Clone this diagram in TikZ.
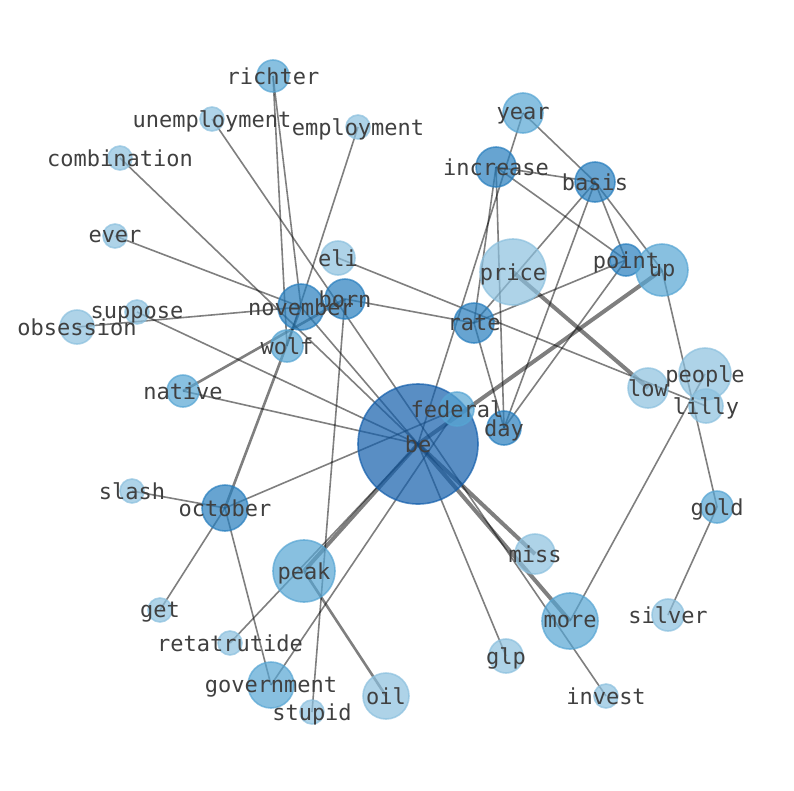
\documentclass[tikz,border=0pt]{standalone}
\usepackage{fontspec}
\setmonofont{DejaVu Sans Mono}
\usetikzlibrary{backgrounds}
\definecolor{lowdeg}{RGB}{139,192,222}
\definecolor{middeg}{RGB}{86,165,211}
\definecolor{highdeg}{RGB}{38,125,189}
\definecolor{hubdeg}{RGB}{19,94,171}
\pgfdeclarelayer{foreground}
\pgfsetlayers{background,main,foreground}

\begin{document}
\begin{tikzpicture}[x=1pt, y=-1pt,
    word/.style={circle, inner sep=0pt, fill opacity=0.7, draw opacity=0.7, line width=1.6pt},
    low/.style={word, fill=lowdeg, draw=lowdeg},
    mid/.style={word, fill=middeg, draw=middeg},
    high/.style={word, fill=highdeg, draw=highdeg},
    hub/.style={word, fill=hubdeg, draw=hubdeg},
    tag/.style={font=\ttfamily\fontsize{22}{22}\selectfont, text=black!75, inner sep=0pt,
        text depth=0pt},
    link/.style={draw=black, opacity=0.5, line width=1.6pt},
    strong/.style={link, line width=2.6pt},
    heavy/.style={link, line width=4pt}
]
\useasboundingbox (0,0) rectangle (794,790);

% Define nodes
\node[mid, minimum size=32pt] (richter) at (273,76) {};
\node[low, minimum size=24pt] (unemployment) at (212,119) {};
\node[low, minimum size=24pt] (employment) at (358,127) {};
\node[low, minimum size=24pt] (combination) at (120,158) {};
\node[mid, minimum size=40pt] (year) at (523,113) {};
\node[high, minimum size=40pt] (increase) at (496,167) {};
\node[high, minimum size=40pt] (basis) at (595,182) {};
\node[low, minimum size=24pt] (ever) at (115,236) {};
\node[low, minimum size=34pt] (eli) at (338,258) {};
\node[low, minimum size=66pt] (price) at (513,272) {};
\node[high, minimum size=32pt] (point) at (626,260) {};
\node[mid, minimum size=52pt] (up) at (662,270) {};
\node[high, minimum size=46pt] (november) at (301,307) {};
\node[high, minimum size=40pt] (born) at (345,299) {};
\node[low, minimum size=24pt] (suppose) at (137,312) {};
\node[low, minimum size=34pt] (obsession) at (77,327) {};
\node[high, minimum size=40pt] (rate) at (474,323) {};
\node[mid, minimum size=32pt] (wolf) at (287,346) {};
\node[mid, minimum size=32pt] (native) at (183,391) {};
\node[low, minimum size=40pt] (low) at (648,388) {};
\node[low, minimum size=52pt] (people) at (705,374) {};
\node[low, minimum size=34pt] (lilly) at (706,406) {};
\node[hub, minimum size=120pt] (be) at (418,444) {};
\node[mid, minimum size=34pt] (federal) at (457,409) {};
\node[high, minimum size=34pt] (day) at (504,428) {};
\node[low, minimum size=24pt] (slash) at (132,491) {};
\node[high, minimum size=46pt] (october) at (225,508) {};
\node[mid, minimum size=32pt] (gold) at (717,507) {};
\node[low, minimum size=40pt] (miss) at (535,554) {};
\node[mid, minimum size=62pt] (peak) at (304,571) {};
\node[low, minimum size=24pt] (get) at (160,610) {};
\node[low, minimum size=32pt] (silver) at (668,615) {};
\node[mid, minimum size=56pt] (more) at (570,621) {};
\node[low, minimum size=24pt] (retatrutide) at (230,643) {};
\node[low, minimum size=34pt] (glp) at (506,656) {};
\node[mid, minimum size=46pt] (government) at (271,685) {};
\node[low, minimum size=46pt] (oil) at (386,696) {};
\node[low, minimum size=24pt] (stupid) at (312,712) {};
\node[low, minimum size=24pt] (invest) at (606,696) {};

% Draw edges
\begin{pgfonlayer}{background}
\draw[link] (richter.center) -- (november.center);
\draw[link] (richter.center) -- (wolf.center);
\draw[link] (employment.center) -- (wolf.center);
\draw[link] (ever.center) -- (november.center);
\draw[link] (obsession.center) -- (november.center);
\draw[link] (november.center) -- (be.center);
\draw[strong] (october.center) -- (november.center);
\draw[strong] (native.center) -- (born.center);
\draw[link] (born.center) -- (stupid.center);
\draw[link] (born.center) -- (rate.center);

\draw[link] (combination.center) -- (be.center);
\draw[link] (suppose.center) -- (be.center);
\draw[link] (native.center) -- (be.center);
\draw[link] (year.center) -- (be.center);
\draw[heavy] (up.center) -- (be.center);
\draw[heavy] (be.center) -- (peak.center);
\draw[link] (be.center) -- (retatrutide.center);
\draw[heavy] (be.center) -- (miss.center);
\draw[heavy] (be.center) -- (more.center);
\draw[link] (be.center) -- (glp.center);
\draw[link] (unemployment.center) -- (invest.center);

\draw[link] (federal.center) -- (october.center);
\draw[link] (federal.center) -- (government.center);
\draw[link] (slash.center) -- (october.center);
\draw[link] (october.center) -- (get.center);
\draw[link] (october.center) -- (government.center);
\draw[strong] (peak.center) -- (oil.center);

\draw[link] (year.center) -- (basis.center);
\draw[link] (increase.center) -- (basis.center);
\draw[link] (increase.center) -- (point.center);
\draw[link] (increase.center) -- (rate.center);
\draw[link] (increase.center) -- (day.center);
\draw[link] (basis.center) -- (point.center);
\draw[link] (basis.center) -- (up.center);
\draw[link] (basis.center) -- (day.center);
\draw[link] (basis.center) -- (rate.center);
\draw[link] (point.center) -- (rate.center);
\draw[link] (point.center) -- (day.center);
\draw[link] (rate.center) -- (day.center);
\draw[link] (eli.center) -- (lilly.center);
\draw[heavy] (price.center) -- (low.center);
\draw[link] (up.center) -- (gold.center);
\draw[link] (people.center) -- (more.center);
\draw[link] (gold.center) -- (silver.center);
\end{pgfonlayer}

% Labels on top
\begin{pgfonlayer}{foreground}
\foreach \w in {richter, unemployment, employment, combination, year, increase, basis,
    ever, eli, price, point, up, november, born, suppose, obsession, rate, wolf, native,
    low, people, lilly, be, federal, day, slash, october, gold, miss, peak, get, silver,
    more, retatrutide, glp, government, oil, stupid, invest}
  \node[tag] (t-\w) at (\w.center) {\w};
\end{pgfonlayer}

\end{tikzpicture}
\end{document}
